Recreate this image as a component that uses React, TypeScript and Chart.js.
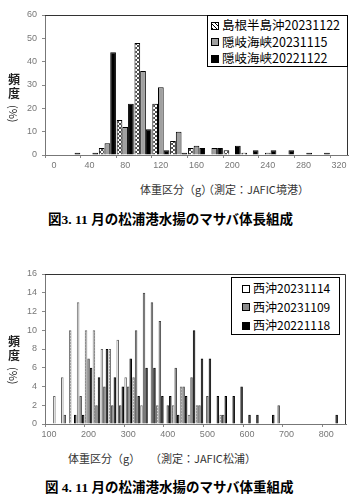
import React, { useEffect, useRef } from "react";
import { Chart, registerables } from "chart.js";

Chart.register(...registerables);

// ---------- Chart 1 (体重区分, 境港) ----------
const cats1 = ["0", "20", "40", "60", "80", "100", "120", "140", "160", "180", "200", "220", "240", "260", "280", "300", "320"];
const shimane20231122 = [0, 0, 0, 3, 15, 48, 22, 6, 3, 0, 2, 1, 0, 0, 0, 0, 0];
const oki20231115 = [0, 0, 0, 5, 12, 36, 29, 10, 4, 3, 0, 0, 1, 0, 0, 0, 0];
const oki20221122 = [0, 1, 1, 44, 22, 11, 2, 1, 3, 3, 4, 2, 2, 2, 1, 1, 0];
const legend1 = ["島根半島沖20231122", "隠岐海峡20231115", "隠岐海峡20221122"];

// ---------- Chart 2 (体重区分, 松浦) ----------
const cats2 = ["100", "120", "140", "160", "180", "200", "220", "240", "260", "280", "300", "320", "340", "360", "380", "400", "420", "440", "460", "480", "500", "520", "540", "560", "580", "600", "620", "640", "660", "680", "700", "720", "740", "760", "780", "800", "820", "840"];
const nishi20231114 = [0, 3, 5, 10, 13, 10, 10, 8, 8, 9, 5, 5, 2, 0, 2, 0, 2, 4, 1, 2, 0, 0, 1, 0, 0, 0, 0, 0, 0, 0, 0, 0, 0, 0, 0, 0, 0, 0];
const nishi20231109 = [0, 0, 1, 0, 3, 7, 2, 4, 2, 2, 4, 10, 14, 13, 11, 2, 6, 4, 5, 2, 3, 0, 1, 0, 0, 0, 0, 0, 0, 2, 0, 0, 0, 0, 0, 0, 0, 0];
const nishi20221118 = [0, 0, 0, 1, 1, 6, 5, 8, 5, 4, 7, 3, 6, 6, 3, 3, 1, 3, 10, 7, 7, 3, 3, 3, 4, 1, 1, 0, 1, 0, 0, 0, 0, 0, 0, 0, 1, 0];
const legend2 = ["西沖20231114", "西沖20231109", "西沖20221118"];

const tickFont = { family: "'Liberation Sans', Arial, sans-serif", size: 9 };
const tickColor = "#777";
const JP = "'Noto Sans CJK JP', sans-serif";

function crossPattern(): CanvasPattern | string {
  const c = document.createElement("canvas");
  c.width = 4;
  c.height = 4;
  const g = c.getContext("2d");
  if (!g) return "#ccc";
  g.fillStyle = "#fff";
  g.fillRect(0, 0, 4, 4);
  g.strokeStyle = "#222";
  g.lineWidth = 0.8;
  g.beginPath();
  g.moveTo(0, 0);
  g.lineTo(4, 4);
  g.moveTo(4, 0);
  g.lineTo(0, 4);
  g.stroke();
  return g.createPattern(c, "repeat") || "#ccc";
}

function dotPattern(): CanvasPattern | string {
  const c = document.createElement("canvas");
  c.width = 3;
  c.height = 3;
  const g = c.getContext("2d");
  if (!g) return "#ddd";
  g.fillStyle = "#fff";
  g.fillRect(0, 0, 3, 3);
  g.fillStyle = "#999";
  g.fillRect(1, 0, 1, 2);
  return g.createPattern(c, "repeat") || "#ddd";
}

const framePlugin = {
  id: "frame",
  afterDraw(chart: any) {
    const { ctx, chartArea: a } = chart;
    ctx.save();
    ctx.strokeStyle = "#333";
    ctx.lineWidth = 1;
    ctx.beginPath();
    ctx.moveTo(a.left, a.top + 0.5);
    ctx.lineTo(a.right - 0.5, a.top + 0.5);
    ctx.lineTo(a.right - 0.5, a.bottom);
    ctx.stroke();
    ctx.restore();
  },
};

function buildConfig(
  labels: string[],
  series: { data: number[]; bg: any; border: string }[],
  yMax: number,
  yStep: number,
  labelEvery: number,
  pad: { top: number; right: number }
): any {
  return {
    type: "bar",
    data: {
      labels,
      datasets: series.map((s) => ({
        data: s.data,
        backgroundColor: s.bg,
        borderColor: s.border,
        borderWidth: 1,
        categoryPercentage: 0.96,
        barPercentage: 1.0,
      })),
    },
    options: {
      responsive: false,
      animation: false,
      events: [],
      layout: { padding: { left: 0, right: pad.right, top: pad.top, bottom: 0 } },
      plugins: { legend: { display: false }, tooltip: { enabled: false }, title: { display: false } },
      scales: {
        x: {
          type: "category",
          afterFit: (s: any) => {
            s.height = 17;
          },
          grid: {
            offset: true,
            drawOnChartArea: false,
            drawTicks: true,
            tickLength: 3,
            color: (ctx: any) => (ctx.index % labelEvery === 0 ? "#888" : "rgba(0,0,0,0)"),
          },
          border: { display: true, color: "#777", width: 1 },
          ticks: {
            autoSkip: false,
            maxRotation: 0,
            padding: 2,
            font: tickFont,
            color: tickColor,
            callback: (_v: any, i: number) => (i % labelEvery === 0 ? labels[i] : ""),
          },
        },
        y: {
          min: 0,
          max: yMax,
          afterFit: (s: any) => {
            s.width = 45;
          },
          grid: { drawOnChartArea: false, drawTicks: true, tickLength: 3, color: "#888" },
          border: { display: true, color: "#777", width: 1 },
          ticks: { stepSize: yStep, font: tickFont, color: tickColor, padding: 5 },
        },
      },
    },
    plugins: [framePlugin],
  };
}

function ChartCanvas({ make, left, top, width, height }: { make: () => any; left: number; top: number; width: number; height: number }) {
  const ref = useRef<HTMLCanvasElement | null>(null);
  useEffect(() => {
    if (!ref.current) return;
    const ch = new Chart(ref.current, make());
    return () => ch.destroy();
  }, []);
  return (
    <canvas
      ref={ref}
      width={width}
      height={height}
      style={{ position: "absolute", left, top, width, height }}
    />
  );
}

const abs = (left: number, top: number, extra: any = {}): any => ({
  position: "absolute",
  left,
  top,
  whiteSpace: "nowrap",
  ...extra,
});

function Marker({ kind }: { kind: string }) {
  const base: any = {
    display: "inline-block",
    width: 6,
    height: 6,
    border: "1px solid #000",
    boxSizing: "content-box",
    verticalAlign: "middle",
    marginRight: 3,
    position: "relative",
    top: -1,
  };
  if (kind === "cross")
    base.background =
      "repeating-linear-gradient(45deg,#000 0 1px,#fff 1px 3px),#fff";
  if (kind === "gray") base.background = "#a0a0a0";
  if (kind === "gray2") base.background = "#8a8a8a";
  if (kind === "black") base.background = "#000";
  if (kind === "white") base.background = "#fff";
  return <span style={base} />;
}

function Legend({ left, top, width, height, rows, kinds, rowH, fontSize, padL }: any) {
  return (
    <div
      style={abs(left, top, {
        width,
        height,
        border: "1px solid #000",
        background: "#fff",
        boxSizing: "border-box",
        fontFamily: JP,
        fontSize,
        color: "#000",
        paddingLeft: padL,
        paddingTop: 1,
      })}
    >
      {rows.map((r: string, i: number) => (
        <div key={i} style={{ height: rowH, lineHeight: rowH + "px" }}>
          <Marker kind={kinds[i]} />
          {r}
        </div>
      ))}
    </div>
  );
}

function VTitle({ left, top }: { left: number; top: number }) {
  const ch: any = {
    position: "absolute",
    left: 0,
    fontFamily: JP,
    fontSize: 12,
    fontWeight: 700,
    color: "#222",
    lineHeight: "14px",
    width: 14,
    textAlign: "center",
  };
  return (
    <div style={abs(left, top, { width: 14, height: 70 })}>
      <div style={{ ...ch, top: 0 }}>頻</div>
      <div style={{ ...ch, top: 14 }}>度</div>
      <div
        style={{
          position: "absolute",
          left: 1,
          top: 33,
          fontFamily: JP,
          fontSize: 11,
          color: "#222",
          writingMode: "vertical-rl",
          textOrientation: "sideways",
          lineHeight: "12px",
        }}
      >
        (%)
      </div>
    </div>
  );
}

export default function App() {
  const make1 = () =>
    buildConfig(
      cats1,
      [
        { data: shimane20231122, bg: crossPattern(), border: "#000" },
        { data: oki20231115, bg: "#a0a0a0", border: "#000" },
        { data: oki20221122, bg: "#000", border: "#000" },
      ],
      60,
      10,
      2,
      { top: 15, right: 8 }
    );
  const make2 = () =>
    buildConfig(
      cats2,
      [
        { data: nishi20231114, bg: dotPattern(), border: "#666" },
        { data: nishi20231109, bg: "#808080", border: "#444" },
        { data: nishi20221118, bg: "#000", border: "#000" },
      ],
      16,
      2,
      5,
      { top: 19, right: 10 }
    );

  const capStyle = {
    fontFamily: "'Liberation Serif', 'Noto Sans CJK JP', serif",
    fontWeight: 700,
    fontSize: 13.5,
    color: "#000",
  };
  const xtStyle = { fontFamily: JP, fontSize: 11, color: "#333" };

  return (
    <div style={{ position: "absolute", left: 0, top: 0, width: 356, height: 500, background: "#fff", overflow: "hidden" }}>
      <ChartCanvas make={make1} left={0} top={0} width={356} height={172} />
      <Legend
        left={207}
        top={15}
        width={141}
        height={52}
        rows={legend1}
        kinds={["cross", "gray", "black"]}
        rowH={16.5}
        fontSize={12.5}
        padL={3}
      />
      <VTitle left={7} top={72} />
      <div style={abs(140, 181, xtStyle)}>体重区分（g）</div>
      <div style={abs(203, 181, xtStyle)}>（測定：JAFIC境港）</div>
      <div style={abs(48, 208, capStyle)}>図3. 11 月の松浦港水揚のマサバ体長組成</div>

      <ChartCanvas make={make2} left={0} top={255} width={356} height={186} />
      <Legend
        left={231}
        top={277}
        width={109}
        height={58}
        rows={legend2}
        kinds={["white", "gray2", "black"]}
        rowH={18.5}
        fontSize={12}
        padL={10}
      />
      <VTitle left={7} top={334} />
      <div style={abs(68, 450, xtStyle)}>体重区分（g）</div>
      <div style={abs(150, 450, xtStyle)}>（測定：JAFIC松浦）</div>
      <div style={abs(45, 476, capStyle)}>図 4. 11 月の松浦港水揚のマサバ体重組成</div>
    </div>
  );
}
